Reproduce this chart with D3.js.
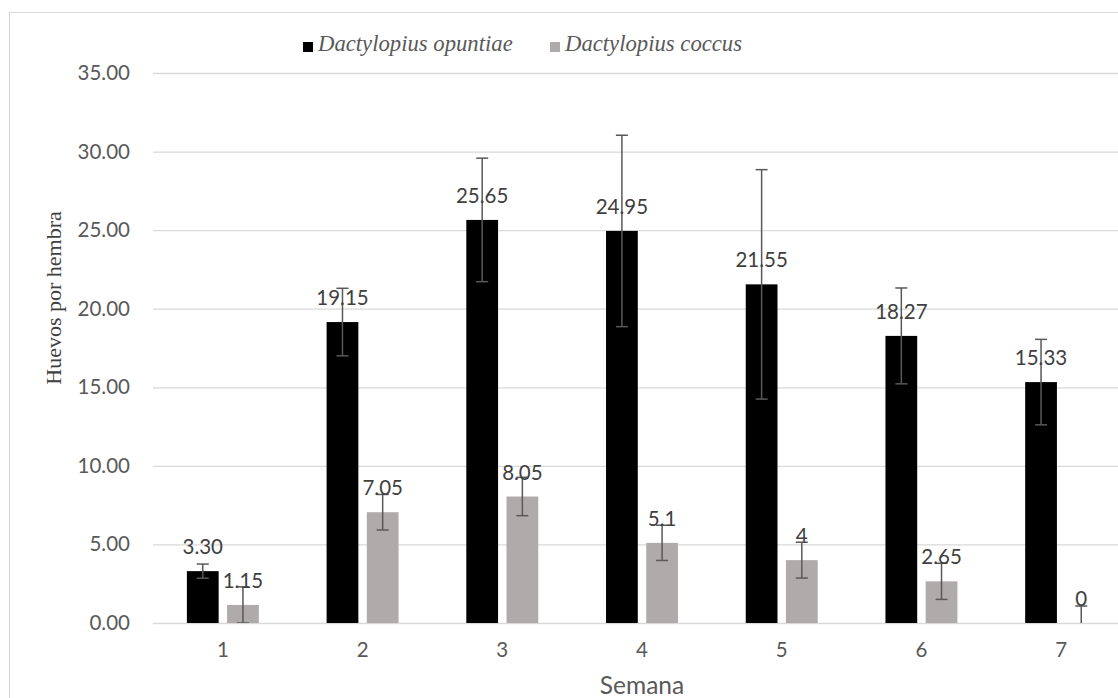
<!DOCTYPE html>
<html>
<head>
<meta charset="utf-8">
<script src="https://cdn.jsdelivr.net/npm/d3@7"></script>
<style>
  body { margin: 0; background: #fff; }
  svg { display: block; }
</style>
</head>
<body>
<svg id="chart" width="1118" height="698"></svg>
<script>
// data
var weeks = ["1", "2", "3", "4", "5", "6", "7"];
var series = ["Dactylopius opuntiae", "Dactylopius coccus"];
var opuntiae = [3.30, 19.15, 25.65, 24.95, 21.55, 18.27, 15.33];
var coccus = [1.15, 7.05, 8.05, 5.1, 4, 2.65, 0];
var opuntiaeLabels = ["3.30", "19.15", "25.65", "24.95", "21.55", "18.27", "15.33"];
var coccusLabels = ["1.15", "7.05", "8.05", "5.1", "4", "2.65", "0"];
var opuntiaeErr = [0.45, 2.15, 3.93, 6.09, 7.3, 3.05, 2.72];
var coccusErr = [1.15, 1.13, 1.22, 1.12, 1.14, 1.15, 1.08];
var yTicks = [0, 5, 10, 15, 20, 25, 30, 35];

var colors = { "Dactylopius opuntiae": "#000000", "Dactylopius coccus": "#AFABAB" };
var sans = "Lato, 'Open Sans', sans-serif";
var serif = "'Liberation Serif', 'Times New Roman', serif";

var svg = d3.select("#chart");

// chart border (Excel chart area)
svg.append("rect")
    .attr("x", 9.5).attr("y", 12.5)
    .attr("width", 1200).attr("height", 800)
    .attr("fill", "none").attr("stroke", "#D9D9D9");

var pLeft = 153, pRight = 1131, pTop = 73, pBottom = 623;

var x0 = d3.scaleBand().domain(weeks).range([pLeft, pRight])
    .paddingInner(0.485).paddingOuter(0.2425);
var x1 = d3.scaleBand().domain(series).range([0, x0.bandwidth()]).paddingInner(0.21);
var y = d3.scaleLinear().domain([0, 35]).range([pBottom, pTop]);

svg.append("clipPath").attr("id", "plot")
  .append("rect").attr("x", pLeft).attr("y", pTop - 40)
  .attr("width", pRight - pLeft).attr("height", pBottom - pTop + 40);

// gridlines + y tick labels
var yAxis = svg.append("g")
    .attr("transform", "translate(" + pLeft + ",0)")
    .call(d3.axisLeft(y).tickValues(yTicks).tickFormat(d3.format(".2f"))
        .tickSize(-(pRight - pLeft)).tickPadding(23));
yAxis.select(".domain").remove();
yAxis.selectAll(".tick line").attr("stroke", "#D9D9D9").attr("stroke-width", 1.3);
yAxis.selectAll(".tick text")
    .attr("fill", "#595959")
    .style("font-family", sans)
    .style("font-size", "20.5px");

// x tick labels
var xAxis = svg.append("g")
    .attr("transform", "translate(0," + pBottom + ")")
    .call(d3.axisBottom(x0).tickSize(0).tickPadding(19));
xAxis.select(".domain").remove();
xAxis.selectAll(".tick text")
    .attr("fill", "#595959")
    .style("font-family", sans)
    .style("font-size", "20.5px");

var points = [];
weeks.forEach(function(w, i) {
  points.push({ week: w, s: series[0], v: opuntiae[i], e: opuntiaeErr[i], label: opuntiaeLabels[i] });
  points.push({ week: w, s: series[1], v: coccus[i], e: coccusErr[i], label: coccusLabels[i] });
});
function cx(d) { return x0(d.week) + x1(d.s) + x1.bandwidth() / 2; }

svg.append("g").selectAll("rect")
    .data(points).join("rect")
    .attr("x", function(d) { return x0(d.week) + x1(d.s); })
    .attr("y", function(d) { return y(d.v); })
    .attr("width", x1.bandwidth())
    .attr("height", function(d) { return y(0) - y(d.v); })
    .attr("fill", function(d) { return colors[d.s]; });

// error bars
var eb = svg.append("g").attr("clip-path", "url(#plot)")
    .selectAll("g")
    .data(points).join("g")
    .attr("transform", function(d) { return "translate(" + cx(d) + ",0)"; })
    .attr("stroke", "#595959").attr("stroke-width", 1.5);
eb.append("line")
    .attr("x1", 0).attr("x2", 0)
    .attr("y1", function(d) { return y(d.v + d.e); })
    .attr("y2", function(d) { return y(d.v - d.e); });
eb.append("line")
    .attr("x1", -6).attr("x2", 6)
    .attr("y1", function(d) { return y(d.v + d.e); })
    .attr("y2", function(d) { return y(d.v + d.e); });
eb.append("line")
    .attr("x1", -6).attr("x2", 6)
    .attr("y1", function(d) { return y(d.v - d.e); })
    .attr("y2", function(d) { return y(d.v - d.e); });

// data labels
svg.append("g").selectAll("text")
    .data(points).join("text")
    .attr("x", cx)
    .attr("y", function(d) { return y(d.v) - 17; })
    .attr("text-anchor", "middle")
    .attr("fill", "#404040")
    .style("font-family", sans)
    .style("font-size", "20.5px")
    .text(function(d) { return d.label; });

// axis titles
svg.append("text")
    .attr("x", 642).attr("y", 694)
    .attr("text-anchor", "middle")
    .attr("fill", "#595959")
    .style("font-family", sans)
    .style("font-size", "24.5px")
    .text("Semana");

svg.append("text")
    .attr("transform", "translate(61,298) rotate(-90)")
    .attr("text-anchor", "middle")
    .attr("fill", "#404040")
    .style("font-family", serif)
    .style("font-size", "22px")
    .text("Huevos por hembra");

// legend
var legendX = [303, 550];
var legend = svg.append("g").selectAll("g")
    .data(series).join("g")
    .attr("transform", function(d, i) { return "translate(" + legendX[i] + ",40)"; });
legend.append("rect")
    .attr("x", 0).attr("y", 2).attr("width", 10).attr("height", 10)
    .attr("fill", function(d) { return colors[d]; });
legend.append("text")
    .attr("x", 15).attr("y", 11)
    .attr("fill", "#595959")
    .style("font-family", serif)
    .style("font-style", "italic")
    .style("font-size", "22.7px")
    .text(function(d) { return d; });
</script>
</body>
</html>
